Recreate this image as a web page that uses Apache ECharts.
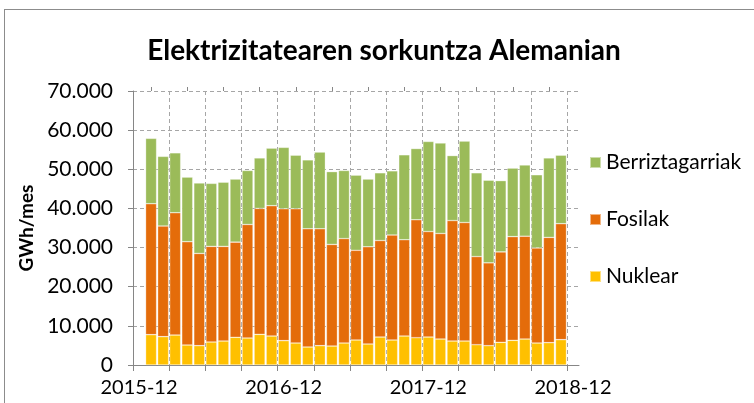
<!DOCTYPE html>
<html>

<head>
    <meta charset="utf-8" />
    <title>Elektrizitatearen sorkuntza Alemanian</title>
    <style>
        html, body {
            margin: 0;
            padding: 0;
            overflow: hidden;
            background: #fff;
        }

        .frame {
            position: absolute;
            left: 4px;
            top: 9px;
            width: 800px;
            height: 500px;
            border: 1px solid #8c8c8c;
        }

        .main {
            position: absolute;
            left: 0;
            top: 0;
            width: 754px;
            height: 403px;
        }
    </style>
    <script src="https://cdn.jsdelivr.net/npm/echarts@6/dist/echarts.min.js"></script>
</head>

<body>
    <div class="frame"></div>
    <div class="main"></div>

    <script type="text/javascript">
        // hilabeteak: 2015-12 .. 2018-12
        const months = [
            '2015-12',
            '2016-01', '2016-02', '2016-03', '2016-04', '2016-05', '2016-06',
            '2016-07', '2016-08', '2016-09', '2016-10', '2016-11', '2016-12',
            '2017-01', '2017-02', '2017-03', '2017-04', '2017-05', '2017-06',
            '2017-07', '2017-08', '2017-09', '2017-10', '2017-11', '2017-12',
            '2018-01', '2018-02', '2018-03', '2018-04', '2018-05', '2018-06',
            '2018-07', '2018-08', '2018-09', '2018-10', '2018-11', '2018-12'
        ];

        // 2016-01 .. 2018-11 (GWh/mes)
        const nuklear = [
            7750, 7240, 7660, 5110, 4940, 5880, 6130, 7070, 6900, 7830, 7410, 6220,
            5620, 4600, 4940, 4850, 5620, 6390, 5370, 7150, 6390, 7410, 6980, 7150,
            6640, 6130, 6130, 5190, 4940, 5790, 6300, 6640, 5620, 5710, 6470
        ];
        const fosilak = [
            33450, 28260, 31240, 26390, 23560, 24420, 24170, 24330, 29000, 32170, 33290, 33680,
            34280, 30200, 29860, 25950, 26680, 22910, 24830, 24650, 26810, 24590, 30120, 26950,
            26960, 30770, 30270, 22510, 21160, 23110, 26500, 26260, 24280, 26890, 29630
        ];
        const berriztagarriak = [
            16700, 17800, 15300, 16500, 18000, 16100, 16400, 16100, 13800, 12900, 14700, 15700,
            13700, 17600, 19600, 18600, 17400, 19200, 17300, 17300, 16400, 21700, 18200, 23000,
            23100, 16600, 20800, 21400, 21100, 18200, 17500, 18200, 18700, 20300, 17500
        ];

        const yTicks = [0, 10000, 20000, 30000, 40000, 50000, 60000, 70000];

        const font = 'Lato';
        const axisGrey = '#868686';
        const gridGrey = '#a6a6a6';

        function fmt(v) {
            return String(v).replace(/\B(?=(\d{3})+(?!\d))/g, '.');
        }

        // lehen hilabetea (2015-12) hutsik
        const barMonths = months.slice(0, 36);
        function pad(arr) {
            return [null].concat(arr);
        }

        var myChart = echarts.init(document.querySelector('.main'), null, { renderer: 'canvas' });

        var option = {
            backgroundColor: 'transparent',
            animation: false,
            textStyle: { fontFamily: font },
            title: {
                text: 'Elektrizitatearen sorkuntza Alemanian',
                left: 379,
                textAlign: 'center',
                top: 32,
                textStyle: { fontFamily: font, fontSize: 28, fontWeight: 'bold', color: '#000' }
            },
            legend: {
                orient: 'vertical',
                left: 584,
                top: 147,
                itemWidth: 11,
                itemHeight: 11,
                itemGap: 36,
                icon: 'rect',
                data: ['Berriztagarriak', 'Fosilak', 'Nuklear'],
                textStyle: { fontFamily: font, fontSize: 21, color: '#000', lineHeight: 20 }
            },
            grid: [
                { left: 133, top: 91, width: 446, bottom: 38 },
                { left: 133, top: 91, width: 434, bottom: 38 }
            ],
            xAxis: [
                {
                    // etiketak + ardatz lerroa
                    type: 'category',
                    gridIndex: 0,
                    data: months,
                    axisLine: { lineStyle: { color: axisGrey, width: 1 } },
                    axisTick: { show: false },
                    axisLabel: { interval: 11, margin: 13, fontFamily: font, fontSize: 20, color: '#000' },
                    splitLine: { show: false }
                },
                {
                    // tick nagusiak eta lerro bertikalak
                    type: 'category',
                    gridIndex: 1,
                    data: barMonths,
                    axisLine: { show: false },
                    axisTick: { show: true, interval: 2, length: 6, lineStyle: { color: axisGrey } },
                    axisLabel: { show: false },
                    splitLine: { show: true, interval: 2, lineStyle: { color: gridGrey, type: [4, 3], width: 1 } }
                },
                {
                    // tick txikiak
                    type: 'category',
                    gridIndex: 1,
                    data: barMonths,
                    axisLine: { show: false },
                    axisTick: {
                        show: true, alignWithLabel: true, length: 4, lineStyle: { color: axisGrey },
                        interval: function (i) { return i % 3 === 1; }
                    },
                    axisLabel: { show: false },
                    splitLine: { show: false }
                }
            ],
            yAxis: [
                {
                    type: 'value',
                    gridIndex: 0,
                    min: yTicks[0],
                    max: yTicks[yTicks.length - 1],
                    interval: 10000,
                    name: 'GWh/mes',
                    nameLocation: 'middle',
                    nameGap: 96,
                    nameRotate: 90,
                    nameTextStyle: { fontFamily: font, fontSize: 19, fontWeight: 'bold', color: '#000' },
                    axisLine: { show: true, lineStyle: { color: axisGrey, width: 1 } },
                    axisTick: { show: true, length: 5, lineStyle: { color: axisGrey } },
                    axisLabel: { margin: 20, fontFamily: font, fontSize: 21, color: '#000', formatter: fmt },
                    splitLine: { show: true, lineStyle: { color: gridGrey, type: [4, 3], width: 1 } }
                },
                {
                    type: 'value',
                    gridIndex: 1,
                    min: yTicks[0],
                    max: yTicks[yTicks.length - 1],
                    interval: 10000,
                    show: false,
                    splitLine: { show: false }
                }
            ],
            series: [
                {
                    name: 'Nuklear',
                    type: 'bar',
                    stack: 'total',
                    xAxisIndex: 1,
                    yAxisIndex: 1,
                    barCategoryGap: '9%',
                    data: pad(nuklear),
                    itemStyle: { color: '#ffc000', borderColor: 'rgba(255,255,255,0.5)', borderWidth: 0.6 }
                },
                {
                    name: 'Fosilak',
                    type: 'bar',
                    stack: 'total',
                    xAxisIndex: 1,
                    yAxisIndex: 1,
                    barCategoryGap: '9%',
                    data: pad(fosilak),
                    itemStyle: { color: '#e46c0a', borderColor: 'rgba(255,255,255,0.5)', borderWidth: 0.6 }
                },
                {
                    name: 'Berriztagarriak',
                    type: 'bar',
                    stack: 'total',
                    xAxisIndex: 1,
                    yAxisIndex: 1,
                    barCategoryGap: '9%',
                    data: pad(berriztagarriak),
                    itemStyle: { color: '#9bbb59', borderColor: 'rgba(255,255,255,0.5)', borderWidth: 0.6 }
                }
            ]
        };
        myChart.setOption(option);
    </script>
</body>

</html>
